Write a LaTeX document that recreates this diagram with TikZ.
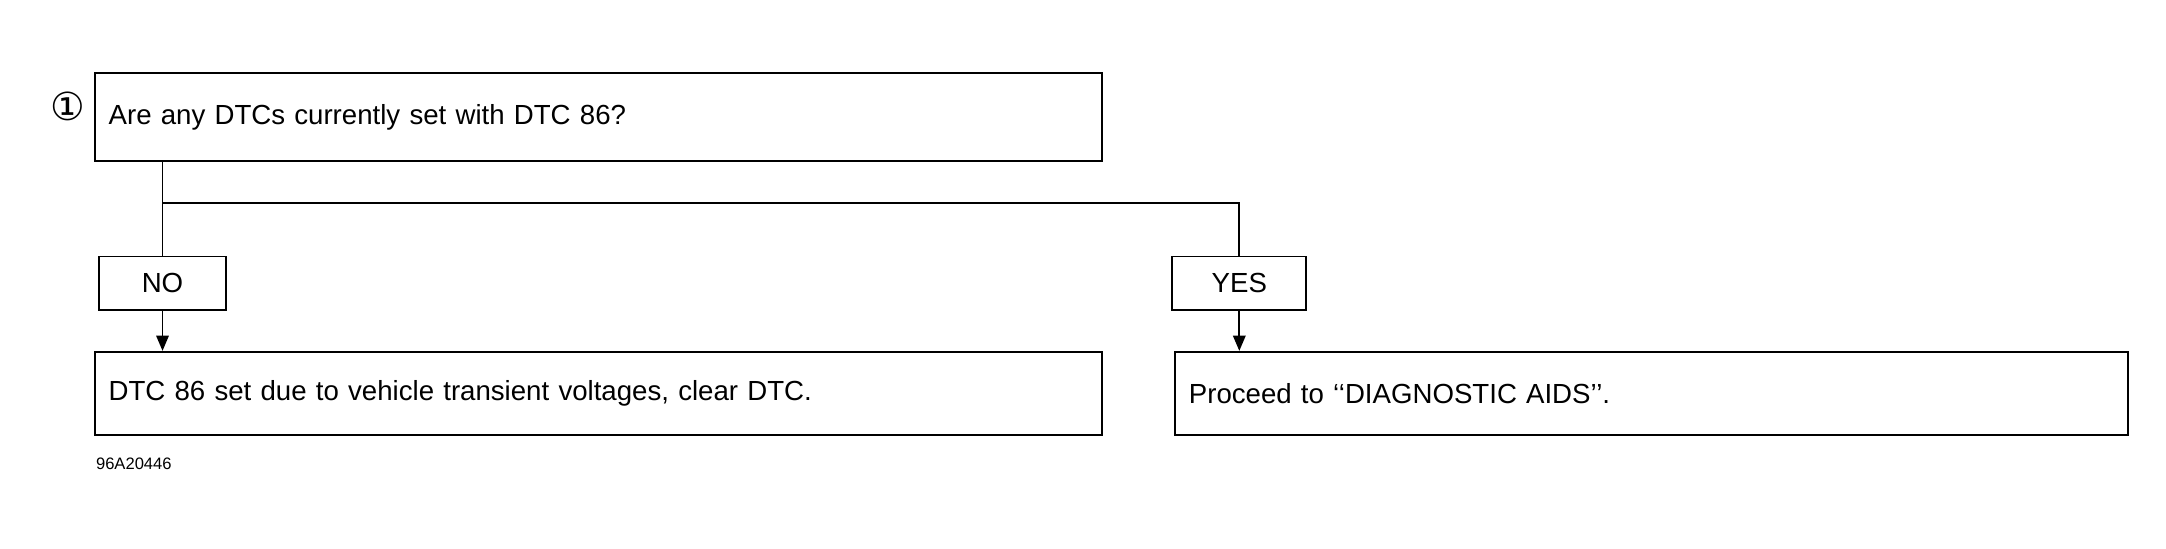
\documentclass[tikz,border=0pt]{standalone}
\usepackage{fontspec}
\setmainfont{Liberation Sans}
\newfontfamily\dejavu{DejaVu Sans}
\usetikzlibrary{arrows.meta}
\begin{document}
\begin{tikzpicture}[x=1pt,y=-1pt,
  box/.style={draw,line width=1.3pt,minimum height=#1,inner sep=0pt,anchor=north west,font=\fontsize{20}{23}\selectfont},
  ln/.style={line width=1.3pt},
  ar/.style={ln,-{Triangle[length=11pt,width=9pt]}}]
\useasboundingbox (0,0) rectangle (1568,397);
\fill[white] (0,0) rectangle (1568,397);
\node[box=64pt,minimum width=729pt,text width=709pt,align=left] (q) at (68,52) {Are any DTCs currently set with DTC 86?};
\node[font=\dejavu\fontsize{28}{30}\selectfont] (c) at (49,77) {①};
\node[box=39pt,minimum width=92pt] (no) at (71,185) {NO};
\node[box=39pt,minimum width=97pt] (yes) at (848,185) {YES};
\node[box=60pt,minimum width=729pt,text width=709pt,align=left] (a) at (68,254) {DTC 86 set due to vehicle transient voltages, clear DTC.};
\node[box=60pt,minimum width=690pt,text width=670pt,align=left] (b) at (850,254) {Proceed to ‘‘DIAGNOSTIC AIDS’’.};
\node[anchor=west,font=\fontsize{12}{14}\selectfont] (id) at (66,336) {96A20446};
\coordinate (j) at (117,147);
\draw[ln] (q.south -| no.north) -- (no.north);
\draw[ln] (j -| no.north) -- (j -| yes.north) -- (yes.north);
\draw[ar] (no.south) -- (no.south |- a.north);
\draw[ar] (yes.south) -- (yes.south |- b.north);
\end{tikzpicture}
\end{document}
